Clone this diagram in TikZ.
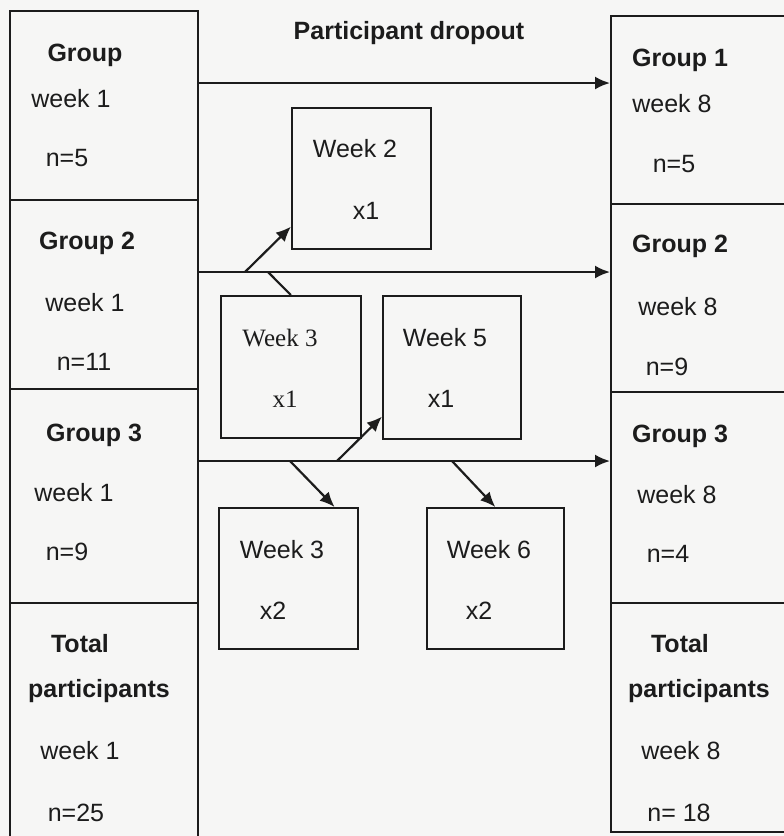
\documentclass[tikz,border=0pt]{standalone}
\usepackage{fontspec}
\setmainfont{Liberation Sans}
\newfontfamily\timesfont{Liberation Serif}
\usetikzlibrary{arrows.meta}
\definecolor{paper}{RGB}{246,246,245}
\definecolor{ink}{RGB}{28,28,28}

\begin{document}
\begin{tikzpicture}[x=1pt,y=-1pt,font=\fontsize{25}{30}\selectfont,text=ink,
    cell/.style={draw=ink,line width=1.6pt,anchor=north west,inner sep=0pt,minimum width=190pt},
    dropbox/.style={draw=ink,line width=1.6pt,anchor=north west,inner sep=0pt,minimum width=139pt,minimum height=141pt},
    lab/.style={anchor=base,inner sep=0pt},
    arr/.style={draw=ink,line width=2.2pt,-{Latex[length=15pt,width=13pt]}}]
  \fill[paper] (0,0) rectangle (784,836);
  \clip (0,0) rectangle (784,836);
  \node[cell,minimum width=188pt,minimum height=189pt] (g1l) at (9,10) {};
  \node[cell,minimum width=188pt,minimum height=189pt] (g2l) at (9,199) {};
  \node[cell,minimum width=188pt,minimum height=214pt] (g3l) at (9,388) {};
  \node[cell,minimum width=188pt,minimum height=250pt] (totl) at (9,602) {};
  \node[cell,minimum height=188pt] (g1r) at (610,15) {};
  \node[cell,minimum height=188pt] (g2r) at (610,203) {};
  \node[cell,minimum height=211pt] (g3r) at (610,391) {};
  \node[cell,minimum height=229pt] (totr) at (610,602) {};
  \node[dropbox] (wk2) at (291,107) {};
  \node[dropbox,minimum width=140pt,minimum height=142pt] (wk3a) at (220,295) {};
  \node[dropbox,minimum width=138pt,minimum height=143pt] (wk5) at (382,295) {};
  \node[dropbox] (wk3b) at (218,507) {};
  \node[dropbox,minimum width=137pt] (wk6) at (426,507) {};
  \node[lab] (title) at (409,39) {\textbf{Participant dropout}};
  \foreach \x/\y/\t [count=\i] in {85/61/\textbf{Group},71/107/week 1,67/166/n=5,
      87/249/\textbf{Group 2},85/311/week 1,84/370/n=11,
      94/441/\textbf{Group 3},74/501/week 1,67/560/n=9,
      80/652/\textbf{Total},99/697/\textbf{participants},80/759/week 1,76/821/n=25,
      680/66/\textbf{Group 1},672/112/week 8,674/172/n=5,
      680/252/\textbf{Group 2},678/315/week 8,667/375/n=9,
      680/442/\textbf{Group 3},677/503/week 8,668/562/n=4,
      680/652/\textbf{Total},699/697/\textbf{participants},681/759/week 8,679/821/n= 18}
    {\node[lab] (lab\i) at (\x,\y) {\t};}
  \node[lab] (wk2a) at (355,157) {Week 2};
  \node[lab] (wk2b) at (366,219) {x1};
  \node[lab,font=\fontsize{25}{30}\timesfont] (wk3aa) at (280,346) {Week 3};
  \node[lab,font=\fontsize{25}{30}\timesfont] (wk3ab) at (285,407) {x1};
  \node[lab] (wk5a) at (445,346) {Week 5};
  \node[lab] (wk5b) at (441,407) {x1};
  \node[lab] (wk3ba) at (282,558) {Week 3};
  \node[lab] (wk3bb) at (273,619) {x2};
  \node[lab] (wk6a) at (489,558) {Week 6};
  \node[lab] (wk6b) at (479,619) {x2};
  \coordinate (h1) at (0,83);
  \coordinate (h2) at (0,272);
  \coordinate (h3) at (0,461);
  \draw[arr] (g1l.east |- h1) -- (g1r.west |- h1);
  \draw[arr] (g2l.east |- h2) -- (g2r.west |- h2);
  \draw[arr] (g3l.east |- h3) -- (g3r.west |- h3);
  \coordinate (b2) at (245,272);
  \coordinate (b3) at (268,272);
  \coordinate (c3) at (290,461);
  \coordinate (c5) at (337,461);
  \coordinate (c6) at (452,461);
  \draw[arr] (b2) -- ([yshift=23pt]wk2.south west);
  \draw[draw=ink,line width=2.2pt] (b3) -- (wk3a.north);
  \draw[arr] (c5) -- ([yshift=23pt]wk5.south west);
  \draw[arr] (c3) -- ([xshift=-24pt]wk3b.north east);
  \draw[arr] (c6) -- (wk6.north);
\end{tikzpicture}
\end{document}
